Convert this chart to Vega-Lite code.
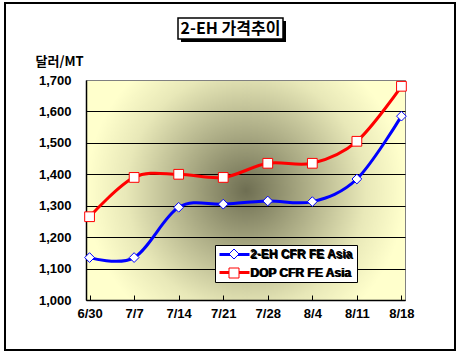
{
  "$schema": "https://vega.github.io/schema/vega-lite/v6.json",
  "width": 319,
  "height": 220,
  "autosize": {"type": "none"},
  "padding": {"left": 86, "top": 80, "right": 55, "bottom": 58},
  "background": "white",
  "config": {
    "view": {
      "stroke": "#808080",
      "strokeWidth": 1,
      "fill": {
        "gradient": "radial",
        "x1": 0.5, "y1": 0.5, "r1": 0,
        "x2": 0.5, "y2": 0.5, "r2": 0.5,
        "stops": [
          {"offset": 0, "color": "#6e6e52"},
          {"offset": 0.35, "color": "#a8a882"},
          {"offset": 0.75, "color": "#e8e8b8"},
          {"offset": 1, "color": "#ffffcc"}
        ]
      }
    },
    "axis": {
      "labelFont": "Liberation Sans",
      "labelFontWeight": "bold",
      "labelFontSize": 13,
      "labelColor": "black",
      "domainColor": "black",
      "domainWidth": 1.5,
      "tickColor": "black"
    },
    "legend": {
      "labelFont": "Liberation Sans",
      "labelFontWeight": "bold",
      "labelFontSize": 12,
      "labelColor": "black",
      "rowPadding": 5,
      "padding": 3,
      "symbolSize": 100,
      "orient": "none",
      "direction": "vertical"
    }
  },
  "data": {
    "values": [
      {"date": "6/30", "series": "2-EH CFR FE Asia", "price": 1135},
      {"date": "7/7", "series": "2-EH CFR FE Asia", "price": 1135},
      {"date": "7/14", "series": "2-EH CFR FE Asia", "price": 1295},
      {"date": "7/21", "series": "2-EH CFR FE Asia", "price": 1305},
      {"date": "7/28", "series": "2-EH CFR FE Asia", "price": 1315},
      {"date": "8/4", "series": "2-EH CFR FE Asia", "price": 1313},
      {"date": "8/11", "series": "2-EH CFR FE Asia", "price": 1385},
      {"date": "8/18", "series": "2-EH CFR FE Asia", "price": 1585},
      {"date": "6/30", "series": "DOP CFR FE Asia", "price": 1265},
      {"date": "7/7", "series": "DOP CFR FE Asia", "price": 1390},
      {"date": "7/14", "series": "DOP CFR FE Asia", "price": 1400},
      {"date": "7/21", "series": "DOP CFR FE Asia", "price": 1390},
      {"date": "7/28", "series": "DOP CFR FE Asia", "price": 1435},
      {"date": "8/4", "series": "DOP CFR FE Asia", "price": 1435},
      {"date": "8/11", "series": "DOP CFR FE Asia", "price": 1505},
      {"date": "8/18", "series": "DOP CFR FE Asia", "price": 1680}
    ]
  },
  "encoding": {
    "x": {
      "field": "date",
      "type": "ordinal",
      "sort": null,
      "scale": {"type": "point", "padding": 0.08},
      "axis": {
        "title": null,
        "labelAngle": 0,
        "tickSize": -5,
        "labelPadding": 12,
        "grid": false
      }
    },
    "y": {
      "field": "price",
      "type": "quantitative",
      "scale": {"domain": [1000, 1700], "nice": false, "zero": false},
      "axis": {
        "values": [1000, 1100, 1200, 1300, 1400, 1500, 1600, 1700],
        "format": ",.0f",
        "ticks": false,
        "labelPadding": 15,
        "grid": true,
        "gridColor": {"condition": {"test": "datum.value >= 1700", "value": "#808080"}, "value": "black"},
        "gridWidth": 1,
        "title": "달러/MT",
        "titleFont": "Noto Sans CJK KR",
        "titleFontSize": 13,
        "titleFontWeight": "bold",
        "titleColor": "black",
        "titleAngle": 0,
        "titleAlign": "left",
        "titleBaseline": "middle",
        "titleX": -51,
        "titleY": -19
      }
    }
  },
  "layer": [
    {
      "data": {"values": [{}]},
      "mark": {"type": "rect", "color": "black", "x": 95, "x2": 200, "y": -59, "y2": -38},
      "encoding": {"x": null, "y": null}
    },
    {
      "data": {"values": [{}]},
      "mark": {"type": "rect", "fill": "white", "stroke": "black", "strokeWidth": 1.5, "x": 92, "x2": 197, "y": -62, "y2": -41},
      "encoding": {"x": null, "y": null}
    },
    {
      "data": {"values": [{"label": "2-EH 가격추이"}]},
      "mark": {"type": "text", "x": 144.5, "y": -51, "align": "center", "baseline": "middle", "font": "Noto Sans CJK KR", "fontSize": 16, "fontWeight": "bold", "color": "black"},
      "encoding": {"x": null, "y": null, "text": {"field": "label"}}
    },
    {
      "data": {"values": [{}]},
      "mark": {"type": "rect", "fill": null, "stroke": "black", "strokeWidth": 2, "x": -81, "x2": 369, "y": -77, "y2": 270},
      "encoding": {"x": null, "y": null}
    },
    {
      "mark": {"type": "line", "interpolate": "cardinal", "strokeWidth": 3},
      "encoding": {
        "stroke": {
          "field": "series",
          "type": "nominal",
          "scale": {"range": ["#0000ff", "#ff0000"]},
          "legend": {
            "title": null,
            "legendX": 129,
            "legendY": 165,
            "fillColor": "white",
            "strokeColor": "black",
            "symbolType": "M-1,0L5,0",
            "symbolStrokeWidth": 3,
            "labelOffset": 20,
            "zindex": 0
          }
        }
      }
    },
    {
      "mark": {"type": "point", "filled": false, "fill": "white", "strokeWidth": 1, "opacity": 1, "size": 95},
      "encoding": {
        "color": {
          "field": "series",
          "type": "nominal",
          "scale": {"domain": ["2-EH CFR FE Asia", "DOP CFR FE Asia"], "range": ["#0000ff", "#ff0000"]},
          "legend": {
            "title": null,
            "legendX": 139,
            "legendY": 165,
            "symbolStrokeWidth": 1,
            "symbolOpacity": 1,
            "labelOffset": 10,
            "zindex": 1
          }
        },
        "shape": {
          "field": "series",
          "type": "nominal",
          "scale": {"domain": ["2-EH CFR FE Asia", "DOP CFR FE Asia"], "range": ["diamond", "square"]}
        }
      }
    }
  ]
}
